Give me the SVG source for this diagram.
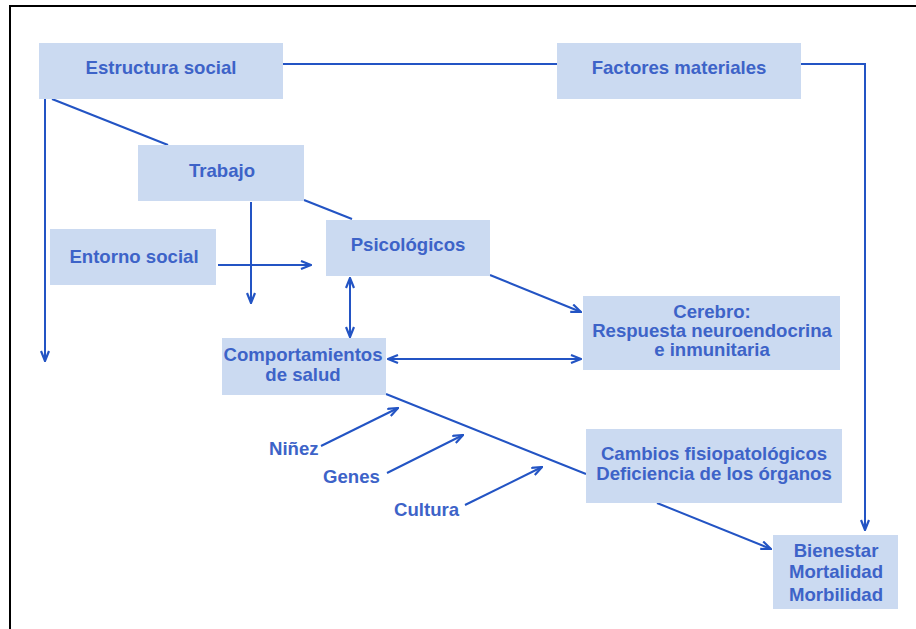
<svg xmlns="http://www.w3.org/2000/svg" width="916" height="629" viewBox="0 0 916 629">
<style>
.box{fill:#cbdaf1}
.t{font-family:"Liberation Sans",Arial,sans-serif;font-weight:bold;font-size:18.6px;fill:#3d63c8;text-anchor:middle}
.l{font-family:"Liberation Sans",Arial,sans-serif;font-weight:bold;font-size:18.6px;fill:#3d63c8}
.c{stroke:#2354c4;stroke-width:2;fill:none}
.a{marker-end:url(#ah)}
.b{marker-start:url(#ah);marker-end:url(#ah)}
</style>
<defs>
<marker id="ah" viewBox="0 0 12 10" refX="11" refY="5" markerWidth="12" markerHeight="10" markerUnits="userSpaceOnUse" orient="auto-start-reverse">
<path d="M1,1 L11,5 L1,9" fill="none" stroke="#2354c4" stroke-width="2.2"/>
</marker>
</defs>
<rect width="916" height="629" fill="#fff"/>
<path d="M10,629 V6 H916" fill="none" stroke="#000" stroke-width="2"/>
<g id="connectors">
<path class="c" d="M283,64 H557"/>
<path class="c a" d="M801,64 H865 V530"/>
<path class="c a" d="M45,99 V361"/>
<path class="c" d="M52,99 L168,145"/>
<path class="c" d="M304,200 L352,219"/>
<path class="c a" d="M251,202 V303"/>
<path class="c a" d="M218,265 H311"/>
<path class="c b" d="M350,278 V337"/>
<path class="c a" d="M490,275 L581,312"/>
<path class="c b" d="M388,359 H581"/>
<path class="c" d="M386,394 L586,474"/>
<path class="c a" d="M321,446 L398,408"/>
<path class="c a" d="M387,473 L463,435"/>
<path class="c a" d="M465,505 L542,467"/>
<path class="c a" d="M657,503 L771,549"/>
</g>
<g id="estructura"><rect class="box" x="39" y="43" width="244" height="56"/><text class="t" x="161" y="74">Estructura social</text></g>
<g id="factores"><rect class="box" x="557" y="43" width="244" height="56"/><text class="t" x="679" y="74">Factores materiales</text></g>
<g id="trabajo"><rect class="box" x="138" y="145" width="166" height="56"/><text class="t" x="222" y="177">Trabajo</text></g>
<g id="entorno"><rect class="box" x="50" y="229" width="166" height="56"/><text class="t" x="134" y="263">Entorno social</text></g>
<g id="psicologicos"><rect class="box" x="326" y="220" width="164" height="56"/><text class="t" x="408" y="251">Psicológicos</text></g>
<g id="cerebro"><rect class="box" x="583" y="296" width="257" height="74"/><text class="t" x="712" y="318">Cerebro:</text><text class="t" x="712" y="337">Respuesta neuroendocrina</text><text class="t" x="712" y="356">e inmunitaria</text></g>
<g id="comportamientos"><rect class="box" x="222" y="338" width="164" height="57"/><text class="t" x="303" y="361">Comportamientos</text><text class="t" x="303" y="381">de salud</text></g>
<g id="cambios"><rect class="box" x="586" y="429" width="256" height="74"/><text class="t" x="714" y="460">Cambios fisiopatológicos</text><text class="t" x="714" y="480">Deficiencia de los órganos</text></g>
<g id="bienestar"><rect class="box" x="773" y="535" width="125" height="74"/><text class="t" x="836" y="557">Bienestar</text><text class="t" x="836" y="578">Mortalidad</text><text class="t" x="836" y="601">Morbilidad</text></g>
<g id="ninez"><text class="l" x="269" y="455">Niñez</text></g>
<g id="genes"><text class="l" x="323" y="483">Genes</text></g>
<g id="cultura"><text class="l" x="394" y="516">Cultura</text></g>
</svg>
